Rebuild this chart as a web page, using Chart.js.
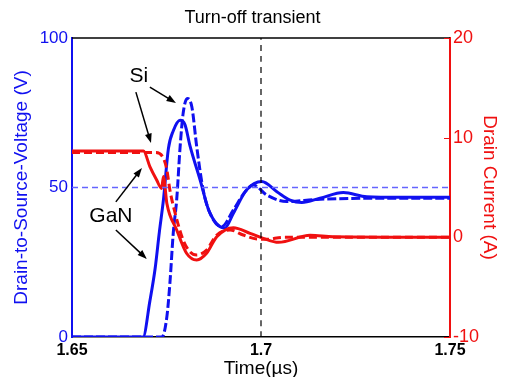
<!DOCTYPE html>
<html>
<head>
<meta charset="utf-8">
<script src="https://cdn.jsdelivr.net/npm/chart.js"></script>
<style>
  html, body { margin: 0; padding: 0; background: #fff; }
</style>
</head>
<body>
<canvas id="chart" width="505" height="377"></canvas>
<script>
// turn-off transient, values (time in us)
var tVGaN = [1.65, 1.6688, 1.6706, 1.6720, 1.6731, 1.6742, 1.6755, 1.6768, 1.6786, 1.6799, 1.6812, 1.6839, 1.6863, 1.6904, 1.6927, 1.6962, 1.7002, 1.7042, 1.7077, 1.7108, 1.7156, 1.7218, 1.7280, 1.7368, 1.75];
var vGaN  = [0, 0, 12, 23, 35, 46, 63, 69, 72.5, 71, 64, 52.5, 42, 36.4, 41.4, 49.2, 52, 48.6, 45.8, 45, 46.4, 48.3, 46.9, 46.7, 46.7];

var tVSi = [1.65, 1.6738, 1.6751, 1.6759, 1.6768, 1.6777, 1.6786, 1.6794, 1.6805, 1.6817, 1.6830, 1.6847, 1.6865, 1.6896, 1.6927, 1.6958, 1.6980, 1.7015, 1.7068, 1.7147, 1.7280, 1.75];
var vSi  = [0, 0, 6.8, 18, 35, 46, 63.6, 74.8, 79.8, 77, 63.6, 49.2, 41.4, 36.9, 42.5, 48.6, 50.8, 47.5, 45.3, 46, 46.4, 46.4];

var tIGaN = [1.65, 1.6689, 1.6706, 1.6724, 1.6737, 1.6742, 1.6751, 1.6777, 1.6803, 1.6830, 1.6856, 1.6883, 1.6927, 1.6971, 1.7006, 1.7046, 1.7130, 1.7191, 1.75];
var iGaN  = [8.65, 8.65, 7.1, 5.75, 4.9, 6.1, 3.4, 0.74, -1.6, -2.27, -1.6, 0.06, 0.97, 0.4, -0.1, -0.5, 0.2, 0.06, 0];

var tISi = [1.65, 1.6720, 1.6742, 1.6751, 1.6759, 1.6773, 1.6794, 1.6812, 1.6830, 1.6856, 1.6883, 1.6918, 1.6953, 1.6989, 1.7015, 1.7059, 1.75];
var iSi  = [8.5, 8.5, 7.93, 6.76, 4.75, 2.41, -0.27, -1.44, -1.77, -1.27, 0.23, 0.74, 0.23, -0.17, -0.2, 0, 0];

var xTicks = [1.65, 1.7, 1.75];
var vTicks = [0, 50, 100];
var iTicks = [-10, 0, 10, 20];
var refV = 50;
var refT = 1.7;

// labels + arrows, placed in data units (time, voltage)
var notes = [
  { text: 'Si', t: 1.6677, v: 87.3 },
  { text: 'GaN', t: 1.6603, v: 40.5 }
];
var arrows = [
  [1.6706, 83.6, 1.6775, 78.3],
  [1.6669, 81.9, 1.6709, 64.9],
  [1.6616, 45.2, 1.6685, 56.5],
  [1.6616, 35.8, 1.6698, 26.1]
];

var BLUE = '#1010f0';
var RED = '#f01010';

function pts(xs, ys) {
  return xs.map(function (x, i) { return { x: x, y: ys[i] }; });
}

var extras = {
  id: 'extras',
  afterDatasetsDraw: function (chart) {
    var ctx = chart.ctx, a = chart.chartArea;
    var sx = chart.scales.x, sv = chart.scales.yV, si = chart.scales.yI;
    ctx.save();
    // top frame line
    ctx.strokeStyle = '#000';
    ctx.lineWidth = 1.5;
    ctx.beginPath();
    ctx.moveTo(a.left, a.top);
    ctx.lineTo(a.right, a.top);
    ctx.stroke();
    // inward ticks on the current axis
    ctx.strokeStyle = RED;
    ctx.lineWidth = 1;
    iTicks.forEach(function (v) {
      var y = Math.round(si.getPixelForValue(v)) + 0.5;
      ctx.beginPath();
      ctx.moveTo(a.right - 6, y);
      ctx.lineTo(a.right, y);
      ctx.stroke();
    });
    // annotation text
    ctx.fillStyle = '#000';
    ctx.font = '21px "Liberation Sans", Arial, sans-serif';
    ctx.textAlign = 'center';
    ctx.textBaseline = 'middle';
    notes.forEach(function (n) {
      ctx.fillText(n.text, sx.getPixelForValue(n.t), sv.getPixelForValue(n.v));
    });
    // arrows
    ctx.strokeStyle = '#000';
    ctx.lineWidth = 1.5;
    arrows.forEach(function (r) {
      var x1 = sx.getPixelForValue(r[0]), y1 = sv.getPixelForValue(r[1]);
      var x2 = sx.getPixelForValue(r[2]), y2 = sv.getPixelForValue(r[3]);
      var ang = Math.atan2(y2 - y1, x2 - x1);
      ctx.beginPath();
      ctx.moveTo(x1, y1);
      ctx.lineTo(x2 - 6 * Math.cos(ang), y2 - 6 * Math.sin(ang));
      ctx.stroke();
      ctx.beginPath();
      ctx.moveTo(x2, y2);
      ctx.lineTo(x2 - 10 * Math.cos(ang - 0.35), y2 - 10 * Math.sin(ang - 0.35));
      ctx.lineTo(x2 - 10 * Math.cos(ang + 0.35), y2 - 10 * Math.sin(ang + 0.35));
      ctx.closePath();
      ctx.fill();
    });
    ctx.restore();
  }
};

Chart.defaults.font.family = '"Liberation Sans", Arial, sans-serif';

new Chart(document.getElementById('chart'), {
  type: 'line',
  data: {
    datasets: [
      { data: pts([xTicks[0], xTicks[2]], [refV, refV]), yAxisID: 'yV', borderColor: '#6464ff', borderWidth: 1.3, borderDash: [6, 4] },
      { data: pts([refT, refT], [vTicks[0], vTicks[2]]), yAxisID: 'yV', borderColor: '#000', borderWidth: 1.2, borderDash: [6, 5] },
      { data: pts(tIGaN, iGaN), yAxisID: 'yI', borderColor: RED, borderWidth: 3 },
      { data: pts(tISi, iSi), yAxisID: 'yI', borderColor: RED, borderWidth: 3, borderDash: [8, 4] },
      { data: pts(tVGaN, vGaN), yAxisID: 'yV', borderColor: BLUE, borderWidth: 3 },
      { data: pts(tVSi, vSi), yAxisID: 'yV', borderColor: BLUE, borderWidth: 3, borderDash: [9, 3] }
    ]
  },
  options: {
    responsive: false,
    animation: false,
    devicePixelRatio: 1,
    layout: { padding: 0 },
    elements: {
      point: { radius: 0 },
      line: { cubicInterpolationMode: 'monotone', fill: false }
    },
    plugins: {
      legend: { display: false },
      tooltip: { enabled: false },
      title: {
        display: true,
        text: 'Turn-off transient',
        color: '#000',
        font: { size: 18, weight: 'normal' },
        padding: { top: 7, bottom: 9.4 }
      }
    },
    scales: {
      x: {
        type: 'linear',
        position: 'bottom',
        min: xTicks[0],
        max: xTicks[2],
        grid: { display: false, drawTicks: false },
        border: { color: '#000', width: 1.5 },
        afterBuildTicks: function (s) { s.ticks = xTicks.map(function (v) { return { value: v }; }); },
        ticks: {
          color: '#000',
          font: { size: 16, weight: 'bold' },
          padding: 4,
          maxRotation: 0,
          callback: function (v) { return String(+v.toFixed(2)); }
        },
        title: { display: true, text: 'Time(µs)', color: '#000', font: { size: 19 }, padding: { top: 0, bottom: -3 } },
        afterFit: function (s) { s.height = 40; }
      },
      yV: {
        position: 'left',
        min: vTicks[0],
        max: vTicks[2],
        grid: { display: false, drawTicks: false },
        border: { color: BLUE, width: 2 },
        afterBuildTicks: function (s) { s.ticks = vTicks.map(function (v) { return { value: v }; }); },
        ticks: { color: BLUE, font: { size: 17 }, padding: 4 },
        title: { display: true, text: 'Drain-to-Source-Voltage (V)', color: BLUE, font: { size: 19 }, padding: { top: 10 } },
        afterFit: function (s) { s.width = 72; }
      },
      yI: {
        position: 'right',
        min: iTicks[0],
        max: iTicks[3],
        grid: { display: false, drawTicks: false },
        border: { color: RED, width: 2 },
        afterBuildTicks: function (s) { s.ticks = iTicks.map(function (v) { return { value: v }; }); },
        ticks: { color: RED, font: { size: 18 }, padding: 3 },
        title: { display: true, text: 'Drain Current (A)', color: RED, font: { size: 19 }, padding: { top: 4 } },
        afterFit: function (s) { s.width = 55; }
      }
    }
  },
  plugins: [extras]
});
</script>
</body>
</html>
